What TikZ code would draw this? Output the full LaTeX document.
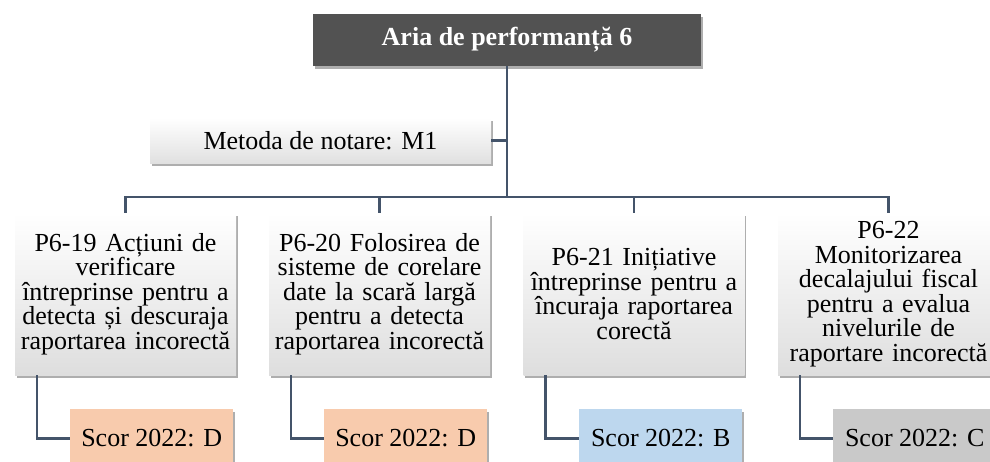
\documentclass[tikz,border=0pt]{standalone}
\usepackage{fontspec}
\setmainfont{Liberation Serif}
\usepackage{tikz}
\usetikzlibrary{shadows}
\definecolor{linkcol}{HTML}{44546A}
\definecolor{titlecol}{HTML}{525252}
\definecolor{scoreD}{HTML}{F8CBAD}
\definecolor{scoreB}{HTML}{BDD7EE}
\definecolor{scoreC}{HTML}{C9C9C9}

\begin{document}
\begin{tikzpicture}[x=1pt, y=1pt,
    every node/.style={font=\fontsize{26}{24.5}\selectfont, inner sep=0pt, align=center},
    boxshadow/.style={drop shadow={shadow xshift=1.5pt, shadow yshift=-3pt, opacity=0.45, fill=black!70}},
    titlebox/.style={boxshadow, fill=titlecol, text=white, font=\fontsize{26}{24.5}\selectfont\bfseries, minimum width=388, minimum height=52},
    notebox/.style={boxshadow, top color=white, bottom color=black!12, minimum width=341, minimum height=45},
    itembox/.style={boxshadow, top color=white, bottom color=black!13, text width=221, minimum height=162},
    scorebox/.style={boxshadow, anchor=north west, minimum width=163, minimum height=58, text depth=0pt},
    link/.style={draw=linkcol, line width=2.6pt}]
        \useasboundingbox (0,0) rectangle (990,-461);
        \node[titlebox] (title) at (507,-40) {Aria de performanță 6};
        \node[notebox] (method) at (320.5,-140.5) {Metoda de notare: M1};
        \node[itembox] (b1) at (125.5,-294) {P6-19 Acțiuni de\\verificare\\întreprinse pentru a\\detecta și descuraja\\raportarea incorectă};
        \node[itembox] (b2) at (379.5,-294) {P6-20 Folosirea de\\sisteme de corelare\\date la scară largă\\pentru a detecta\\raportarea incorectă};
        \node[itembox] (b3) at (634,-294) {P6-21 Inițiative\\întreprinse pentru a\\încuraja raportarea\\corectă};
        \node[itembox] (b4) at (888.5,-294) {P6-22\\Monitorizarea\\decalajului fiscal\\pentru a evalua\\nivelurile de\\raportare incorectă};
        \node[scorebox, fill=scoreD] (s1) at (70,-409) {Scor 2022: D};
        \node[scorebox, fill=scoreD] (s2) at (324,-409) {Scor 2022: D};
        \node[scorebox, fill=scoreB] (s3) at (579,-409) {Scor 2022: B};
        \node[scorebox, fill=scoreC] (s4) at (833,-409) {Scor 2022: C};
        \coordinate (hub) at (title.south |- 0,-197);
        \draw[link] (title.south) -- (hub);
        \draw[link] (method.east) -- (method.east -| title.south);
        \foreach \i in {1,...,4}
            \draw[link] (hub) -| (b\i.north);
        \foreach \i in {1,...,4}
            \draw[link] ([xshift=22pt]b\i.south west) |- (s\i.west);
      \end{tikzpicture}
\end{document}
